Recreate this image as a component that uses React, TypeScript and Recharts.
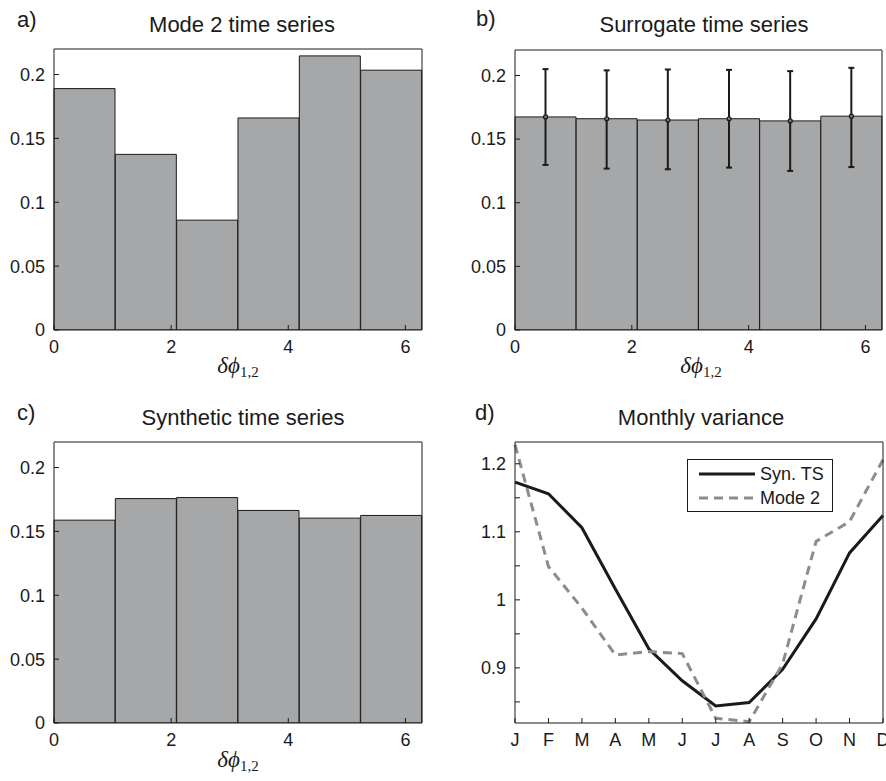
import React from "react";
import { Bar, ComposedChart, ErrorBar, Legend, Line, LineChart, XAxis, YAxis } from "recharts";

// histogram bins over the phase difference 0..2pi (6 bins)
const binNames = ["b1", "b2", "b3", "b4", "b5", "b6"];
const mode2Hist = [0.189, 0.1375, 0.086, 0.166, 0.2146, 0.2034];
const surrogateHist = [0.1674, 0.166, 0.165, 0.166, 0.1643, 0.168];
const surrogateLow = [0.1297, 0.1268, 0.1263, 0.1276, 0.125, 0.128];
const surrogateHigh = [0.205, 0.204, 0.2047, 0.2044, 0.2034, 0.206];
const syntheticHist = [0.1588, 0.1757, 0.1765, 0.1664, 0.1604, 0.1625];
const phaseTicks = [0, 2, 4, 6];
const histTicks = [0, 0.05, 0.1, 0.15, 0.2];

// monthly variance
const months = ["J", "F", "M", "A", "M", "J", "J", "A", "S", "O", "N", "D"];
const synTS = [1.173, 1.156, 1.106, 1.016, 0.928, 0.881, 0.844, 0.849, 0.898, 0.972, 1.069, 1.124];
const mode2Var = [1.228, 1.049, 0.988, 0.919, 0.924, 0.921, 0.826, 0.821, 0.906, 1.086, 1.115, 1.206];
const varTicks = [0.85, 0.9, 0.95, 1, 1.05, 1.1, 1.15, 1.2];
const varTickLabels = ["", "0.9", "", "1", "", "1.1", "", "1.2"];
const legendOrder = ["Syn. TS", "Mode 2"];

const FONT = '"Liberation Sans", Arial, Helvetica, sans-serif';
const SERIF = '"Liberation Serif", "DejaVu Serif", serif';
const INK = "#1a1a1a";
const BAR_GRAY = "#a6a7a9";
const DASH_GRAY = "#8c8c8c";
const tickStyle = { fontSize: 18, fill: INK, fontFamily: FONT };
const TWO_PI = 2 * Math.PI;
const phaseDomain = [0, TWO_PI];

type Margin = { top: number; right: number; bottom: number; left: number };

// plot box is given as left/top/right/bottom pixel inset inside the 443-wide cell
function Histogram({
  values,
  low,
  high,
  height,
  box,
}: {
  values: number[];
  low?: number[];
  high?: number[];
  height: number;
  box: Margin;
}) {
  const n = values.length;
  const data = values.map((v, i) => ({
    bin: binNames[i],
    phase: ((i + 0.5) * TWO_PI) / n,
    value: v,
    err: low && high ? [v - low[i], high[i] - v] : [0, 0],
  }));
  const margin = { top: box.top - 2, right: box.right - 2, bottom: box.bottom - 30, left: 0 };
  return (
    <ComposedChart width={443} height={height} data={data} margin={margin} barCategoryGap={0} barGap={0}>
      <XAxis xAxisId="cat" dataKey="bin" hide height={0} />
      <XAxis
        xAxisId="num"
        dataKey="phase"
        type="number"
        domain={phaseDomain}
        ticks={phaseTicks}
        height={30}
        tickSize={-5}
        tickMargin={15}
        tick={tickStyle}
        stroke={INK}
        allowDataOverflow
      />
      <XAxis
        xAxisId="top"
        dataKey="phase"
        orientation="top"
        type="number"
        domain={phaseDomain}
        ticks={phaseTicks}
        height={2}
        tickSize={-5}
        tick={false}
        stroke={INK}
        allowDataOverflow
      />
      <YAxis
        yAxisId="left"
        domain={[0, 0.22]}
        ticks={histTicks}
        width={box.left}
        tickSize={-5}
        tickMargin={14}
        tick={tickStyle}
        stroke={INK}
        allowDataOverflow
      />
      <YAxis
        yAxisId="right"
        orientation="right"
        domain={[0, 0.22]}
        ticks={histTicks}
        width={2}
        tickSize={-5}
        tick={false}
        stroke={INK}
        allowDataOverflow
      />
      <Bar xAxisId="cat" yAxisId="left" dataKey="value" fill={BAR_GRAY} stroke={INK} strokeWidth={1} isAnimationActive={false}>
        {low && <ErrorBar dataKey="err" width={3} strokeWidth={2} stroke={INK} />}
      </Bar>
      {low && (
        <Line
          xAxisId="cat"
          yAxisId="left"
          dataKey="value"
          stroke="none"
          dot={{ r: 2, fill: "#777", stroke: INK, strokeWidth: 1.2 }}
          isAnimationActive={false}
        />
      )}
    </ComposedChart>
  );
}

function VarLegend(props: any) {
  const payload = [...(props.payload || [])].sort(
    (a: any, b: any) => legendOrder.indexOf(a.value) - legendOrder.indexOf(b.value)
  );
  return (
    <div
      style={{
        border: `1px solid ${INK}`,
        background: "#fff",
        width: 146,
        height: 53,
        boxSizing: "border-box",
        paddingTop: 2,
        fontFamily: FONT,
        fontSize: 18,
        color: INK,
      }}
    >
      {payload.map((entry: any) => (
        <div key={entry.value} style={{ display: "flex", alignItems: "center", height: 24 }}>
          <svg width={72} height={24} style={{ flex: "none" }}>
            <line
              x1={11}
              x2={67}
              y1={12}
              y2={12}
              stroke={entry.color}
              strokeWidth={3}
              strokeDasharray={entry.payload?.strokeDasharray}
            />
          </svg>
          <span>{entry.value}</span>
        </div>
      ))}
    </div>
  );
}

function MonthlyVariance() {
  const data = months.map((m, i) => ({ m: i, syn: synTS[i], mode2: mode2Var[i] }));
  const monthIdx = months.map((_, i) => i);
  const domain = [0.819, 1.232];
  return (
    <LineChart width={443} height={391} data={data} margin={{ top: 50, right: 1, bottom: 28, left: 0 }}>
      <XAxis
        dataKey="m"
        type="number"
        domain={[0, 11]}
        ticks={monthIdx}
        interval={0}
        tickFormatter={(i: number) => months[i]}
        height={30}
        tickSize={-5}
        tickMargin={15}
        tick={tickStyle}
        stroke={INK}
      />
      <XAxis
        xAxisId="top"
        dataKey="m"
        orientation="top"
        type="number"
        domain={[0, 11]}
        ticks={monthIdx}
        interval={0}
        height={2}
        tickSize={-5}
        tick={false}
        stroke={INK}
      />
      <YAxis
        domain={domain}
        ticks={varTicks}
        interval={0}
        tickFormatter={(_: number, i: number) => varTickLabels[i]}
        width={72}
        tickSize={-5}
        tickMargin={14}
        tick={tickStyle}
        stroke={INK}
        allowDataOverflow
      />
      <YAxis
        yAxisId="right"
        orientation="right"
        domain={domain}
        ticks={varTicks}
        interval={0}
        width={2}
        tickSize={-5}
        tick={false}
        stroke={INK}
        allowDataOverflow
      />
      <Line dataKey="syn" name="Syn. TS" stroke={INK} strokeWidth={3} dot={false} isAnimationActive={false} />
      <Line
        dataKey="mode2"
        name="Mode 2"
        stroke={DASH_GRAY}
        strokeWidth={3}
        strokeDasharray="9 6"
        dot={false}
        isAnimationActive={false}
      />
      <Legend
        layout="vertical"
        align="center"
        verticalAlign="middle"
        content={<VarLegend />}
        wrapperStyle={{ left: 244, top: 69, width: 146 }}
      />
    </LineChart>
  );
}

function PhaseLabel({ x, y }: { x: number; y: number }) {
  return (
    <text x={x} y={y} textAnchor="middle" fontFamily={SERIF} fill={INK}>
      <tspan fontStyle="italic" fontSize={23}>
        δϕ
      </tspan>
      <tspan fontSize={15} dy={4}>
        1,2
      </tspan>
    </text>
  );
}

export default function App() {
  const titleProps = { fontFamily: FONT, fontSize: 22, fill: INK, textAnchor: "middle" as const };
  const letterProps = { fontFamily: FONT, fontSize: 22, fill: INK };
  return (
    <div style={{ position: "absolute", left: 0, top: 0, width: 886, height: 781, background: "#fff", overflow: "hidden" }}>
      <div style={{ position: "absolute", left: 0, top: 0 }}>
        <Histogram values={mode2Hist} height={390} box={{ top: 49, right: 21, bottom: 60, left: 54 }} />
      </div>
      <div style={{ position: "absolute", left: 443, top: 0 }}>
        <Histogram
          values={surrogateHist}
          low={surrogateLow}
          high={surrogateHigh}
          height={390}
          box={{ top: 50, right: 4, bottom: 60, left: 72 }}
        />
      </div>
      <div style={{ position: "absolute", left: 0, top: 390 }}>
        <Histogram values={syntheticHist} height={391} box={{ top: 52, right: 21, bottom: 58, left: 54 }} />
      </div>
      <div style={{ position: "absolute", left: 443, top: 390 }}>
        <MonthlyVariance />
      </div>
      <svg width={886} height={781} style={{ position: "absolute", left: 0, top: 0, pointerEvents: "none" }}>
        <text x={17} y={27} {...letterProps}>a)</text>
        <text x={476} y={26} {...letterProps}>b)</text>
        <text x={17} y={420} {...letterProps}>c)</text>
        <text x={475} y={420} {...letterProps}>d)</text>
        <text x={242} y={32} {...titleProps}>Mode 2 time series</text>
        <text x={704} y={32} {...titleProps}>Surrogate time series</text>
        <text x={243} y={425} {...titleProps}>Synthetic time series</text>
        <text x={701} y={425} {...titleProps}>Monthly variance</text>
        <PhaseLabel x={238} y={373} />
        <PhaseLabel x={701} y={373} />
        <PhaseLabel x={238} y={767} />
      </svg>
    </div>
  );
}
